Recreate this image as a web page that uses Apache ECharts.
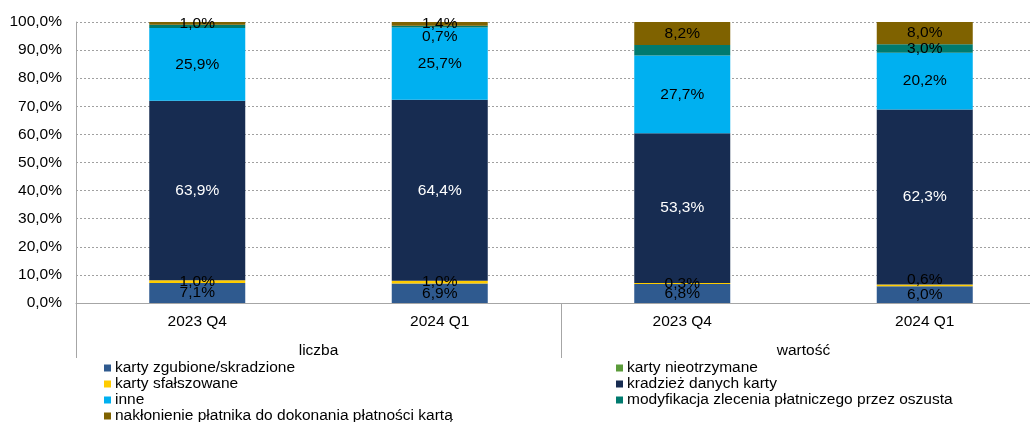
<!DOCTYPE html>
<html>
<head>
<meta charset="utf-8">
<script src="https://cdn.jsdelivr.net/npm/echarts@6/dist/echarts.min.js"></script>
<style>
  html, body { margin: 0; padding: 0; background: #fff; }
  #chart { width: 1030px; height: 422px; }
</style>
</head>
<body>
<div id="chart"></div>
<script>
// kategorie i grupy
const categories = ['2023 Q4', '2024 Q1', '2023 Q4', '2024 Q1'];
const groups = ['liczba', 'wartość'];
const yTicks = [0, 10, 20, 30, 40, 50, 60, 70, 80, 90, 100];

// udziały (%) - od dołu słupka
const zgubione = [7.1, 6.9, 6.8, 6.0];
const nieotrzymane = [0, 0, 0, 0];
const sfalszowane = [1.0, 1.0, 0.3, 0.6];
const kradziez = [63.9, 64.4, 53.3, 62.3];
const inne = [25.9, 25.7, 27.7, 20.2];
const modyfikacja = [1.1, 0.7, 3.7, 3.0];
const naklonienie = [1.0, 1.4, 8.2, 8.0];

const names = [
    'karty zgubione/skradzione',
    'karty nieotrzymane',
    'karty sfałszowane',
    'kradzież danych karty',
    'inne',
    'modyfikacja zlecenia płatniczego przez oszusta',
    'nakłonienie płatnika do dokonania płatności kartą'
];
const colors = ['#2F5A8F', '#5B9B3A', '#FFCC00', '#172C51', '#00B0F0', '#007A6E', '#7F6200'];
const values = [zgubione, nieotrzymane, sfalszowane, kradziez, inne, modyfikacja, naklonienie];

// etykiety ukryte na wykresie (seria -> indeksy)
const hidden = { 1: [0, 1, 2, 3], 5: [0, 2] };

const fmt = v => v.toFixed(1).replace('.', ',') + '%';
const font = 'Liberation Sans, Arial, sans-serif';
const fs = 15.5;

const series = values.map((vals, si) => ({
    name: names[si],
    type: 'bar',
    stack: 'all',
    barWidth: 96,
    itemStyle: { color: colors[si] },
    label: {
        show: true,
        position: 'inside',
        fontFamily: font,
        fontSize: fs,
        color: si === 3 ? '#fff' : '#000',
        formatter: p => fmt(p.value)
    },
    data: vals.map((v, i) => {
        const item = { value: v };
        if (hidden[si] && hidden[si].includes(i)) item.label = { show: false };
        if (si === 5 && i === 1) item.label = { offset: [0, 10] };
        if (si === 2 && i === 3) item.label = { offset: [0, -6] };
        return item;
    })
}));

const legendText = { fontSize: fs, color: '#000', fontFamily: font, lineHeight: 16, padding: [0, 0, 0, -1] };

const options = {
    animation: false,
    textStyle: { fontFamily: font },
    grid: { left: 76, top: 22, right: -16, bottom: 119, outerBoundsMode: 'none' },
    legend: [
        {
            orient: 'vertical', left: 104, top: 360, height: 90, itemWidth: 7, itemHeight: 7, itemGap: 0,
            icon: 'rect', padding: 0, textStyle: legendText,
            data: [names[0], names[2], names[4], names[6]]
        },
        {
            orient: 'vertical', left: 616, top: 360, height: 90, itemWidth: 7, itemHeight: 7, itemGap: 0,
            icon: 'rect', padding: 0, textStyle: legendText,
            data: [names[1], names[3], names[5]]
        }
    ],
    xAxis: [
        {
            type: 'category',
            data: categories,
            axisLine: { lineStyle: { color: '#A6A6A6' } },
            axisTick: { show: false },
            axisLabel: { color: '#000', fontSize: fs, margin: 11, fontFamily: font }
        },
        {
            type: 'category',
            data: groups,
            position: 'bottom',
            axisLine: { show: false },
            axisTick: { show: true, length: 55, lineStyle: { color: '#A6A6A6' } },
            axisLabel: { color: '#000', fontSize: fs, margin: 40, fontFamily: font }
        }
    ],
    yAxis: {
        type: 'value',
        min: 0,
        max: 100,
        interval: 10,
        axisLine: { show: true, lineStyle: { color: '#A6A6A6' } },
        axisTick: { show: false },
        splitLine: { lineStyle: { color: '#A0A0A0', type: [2, 2] } },
        axisLabel: {
            color: '#000', fontSize: fs, margin: 14, fontFamily: font,
            formatter: v => yTicks.includes(v) ? fmt(v) : ''
        }
    },
    series: series
};

const E = echarts.init(document.getElementById('chart'));
E.setOption(options);
</script>
</body>
</html>
